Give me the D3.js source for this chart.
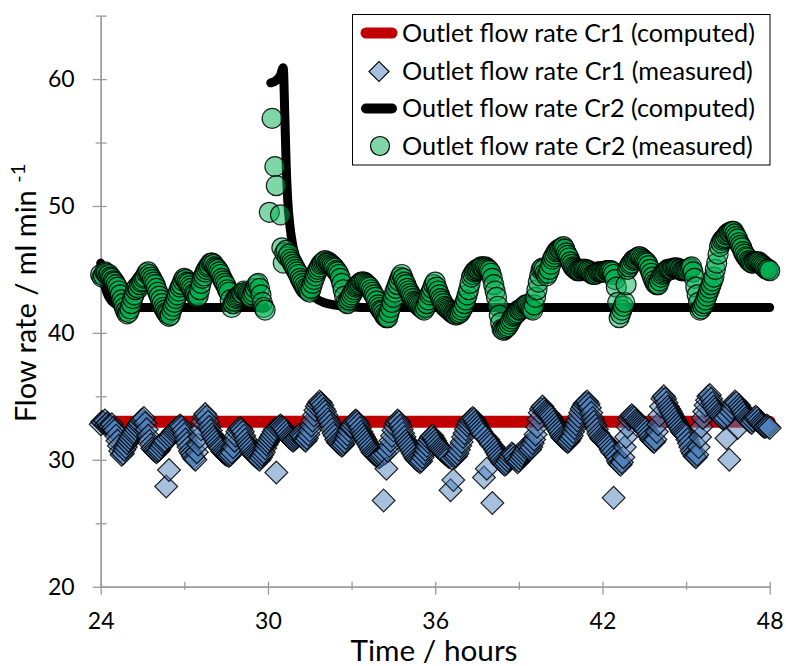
<!DOCTYPE html>
<html>
<head>
<meta charset="utf-8">
<script src="https://cdn.jsdelivr.net/npm/d3@7"></script>
<style>
  html, body { margin: 0; padding: 0; background: #fff; }
  svg { display: block; font-family: Lato, "Open Sans", sans-serif; }
</style>
</head>
<body>
<svg id="chart" width="786" height="666"></svg>
<script>
// Outlet flow rates of the two reactors, sampled every 0.05 h (3 min) from 24 h to 48 h
const sampleStart = 24.0;
const sampleStep = 0.05;

// Cr1 measured (ml/min), one row = 0.5 h
const cr1Measured = [
  32.8,33.0,32.9,33.1,32.8,32.9,32.7,32.6,32.8,32.5,
  32.3,31.9,31.5,31.1,30.7,30.4,30.5,30.8,31.0,31.3,
  31.5,31.7,31.9,32.1,32.2,32.4,32.6,32.8,32.9,33.1,
  33.2,33.3,32.9,32.4,31.9,31.5,31.2,30.9,30.8,30.7,
  30.6,30.7,30.8,31.0,31.2,31.4,31.5,27.9,31.7,29.2,
  31.8,32.0,32.2,32.3,32.4,32.5,32.6,32.7,32.6,32.3,
  32.0,31.6,31.3,31.0,30.7,30.5,30.3,30.1,30.0,30.6,
  31.2,31.8,32.4,33.0,33.4,33.6,33.4,33.0,32.6,32.3,
  32.0,31.8,31.6,31.4,31.2,31.0,30.9,30.7,30.6,30.5,
  30.4,30.4,30.3,30.4,30.6,31.0,31.5,31.9,32.2,32.4,
  32.5,32.4,32.2,31.9,31.6,31.3,31.1,30.9,30.7,30.5,
  30.4,30.3,30.2,30.1,30.0,30.2,30.4,30.6,30.9,31.2,
  31.4,31.6,31.8,32.0,32.2,32.4,29.0,32.5,32.6,32.7,
  32.6,32.5,32.4,32.2,32.0,31.8,31.7,31.6,31.5,31.6,
  31.7,31.8,31.9,32.0,31.9,31.8,31.6,31.5,31.7,32.0,
  32.3,32.7,33.1,33.5,33.9,34.2,34.4,34.6,34.5,34.3,
  34.0,33.8,33.5,33.2,33.0,32.7,32.4,32.1,31.9,31.6,
  31.4,31.3,31.2,31.1,31.2,31.4,31.7,32.0,32.3,32.6,
  32.6,32.8,33.0,33.1,33.0,32.8,32.5,32.2,32.0,31.8,
  31.6,31.4,31.2,31.0,30.8,30.6,30.5,30.4,30.3,30.2,
  30.2,30.3,30.4,26.8,30.5,29.3,30.7,31.1,31.5,31.9,
  32.3,32.6,32.9,33.1,33.0,32.7,32.4,32.1,31.8,31.5,
  31.3,31.1,30.9,30.7,30.5,30.3,30.1,30.0,29.9,29.8,
  29.9,30.2,30.5,30.8,31.1,31.4,31.6,31.8,31.9,31.7,
  31.5,31.3,31.1,30.9,30.8,30.7,30.6,30.5,30.4,30.3,
  30.2,27.6,30.1,28.4,30.2,30.3,30.5,30.8,31.1,31.4,
  31.8,32.1,32.4,32.7,32.9,33.1,33.2,33.3,33.2,33.0,
  32.8,32.6,32.4,32.2,32.0,28.6,31.8,29.3,31.6,31.4,
  31.2,26.6,31.0,30.8,30.6,30.4,30.2,30.0,29.8,29.7,
  29.6,29.7,29.9,30.1,30.3,30.5,30.4,30.2,30.0,29.8,
  29.9,30.1,30.3,30.5,30.7,30.9,31.1,31.0,30.8,31.0,
  31.3,31.6,32.0,32.6,33.2,33.7,34.0,34.2,34.0,33.8,
  33.7,33.6,33.5,33.4,33.2,33.0,32.8,32.6,32.4,32.2,
  32.0,31.8,31.7,31.6,31.5,31.4,31.5,31.7,31.9,32.2,
  32.5,32.8,33.1,33.4,33.7,34.0,34.2,34.4,34.5,34.6,
  34.4,34.1,33.7,33.3,33.0,32.7,32.4,32.1,31.9,31.7,
  31.6,31.5,31.4,31.3,31.2,31.0,30.8,30.6,27.0,30.4,
  30.2,29.9,29.7,29.6,29.8,30.2,31.0,31.8,32.6,33.2,
  33.4,33.5,33.4,33.3,33.1,33.0,32.9,32.8,32.7,32.6,
  32.5,32.4,32.2,32.0,31.8,31.6,31.5,31.4,31.6,32.2,
  32.8,33.5,34.2,34.8,35.0,34.8,34.5,34.2,34.0,33.8,
  33.6,33.4,33.2,33.0,32.8,32.6,32.4,32.2,32.1,32.0,
  31.9,31.6,31.3,31.0,30.7,30.5,30.3,30.2,30.4,31.0,
  31.8,32.6,33.3,33.8,34.3,34.7,35.0,35.1,34.8,34.5,
  34.2,34.0,33.8,33.6,33.5,33.4,33.3,33.2,33.3,31.7,
  33.5,30.0,33.8,34.1,34.4,34.6,34.5,32.5,34.3,34.1,
  33.9,33.7,33.5,33.3,33.2,33.1,33.0,32.9,33.1,33.3,
  33.4,33.3,33.1,32.9,32.8,32.7,32.6,32.6,32.7,32.6,
  32.5
];

// Cr2 measured (ml/min), one row = 0.5 h; null = no sample
const cr2Measured = [
  44.6,44.4,44.5,44.8,44.7,44.5,44.6,44.4,44.3,44.1,
  44.0,43.8,43.6,43.3,43.0,42.6,42.3,42.0,41.7,41.5,
  41.6,41.9,42.3,42.7,43.0,43.4,43.6,43.5,43.8,44.0,
  44.1,44.3,44.4,44.7,44.8,44.6,44.4,44.2,44.0,43.8,
  43.5,43.2,42.9,42.6,42.3,42.0,41.8,41.6,41.5,41.3,
  41.4,41.8,42.1,42.4,42.7,43.0,43.3,43.6,43.8,44.1,
  44.3,44.2,44.0,43.9,43.7,43.5,43.3,43.1,43.0,42.8,
  42.9,43.4,43.9,44.3,44.5,44.8,45.0,45.2,45.3,45.5,
  45.5,45.4,45.2,45.1,45.0,44.8,44.6,44.3,44.1,43.9,
  43.7,43.4,43.2,42.6,42.0,42.3,42.5,42.7,42.8,42.9,
  43.0,43.1,43.1,43.3,43.2,43.1,43.0,42.9,42.8,43.0,
  43.2,43.5,43.8,43.9,43.5,43.0,42.4,42.0,41.8,null,
  null,49.5,null,56.9,null,53.1,51.6,null,null,49.3,
  46.7,45.5,46.3,46.5,46.0,46.2,45.8,45.6,45.4,45.2,
  45.0,44.8,44.6,44.3,44.1,43.9,43.7,43.5,43.4,43.3,
  43.2,43.5,43.9,44.2,44.5,44.8,45.0,45.2,45.4,45.5,
  45.6,45.7,45.5,45.6,45.5,45.4,45.3,45.2,45.1,44.9,
  44.8,44.6,44.3,43.9,43.4,42.9,42.4,42.3,42.6,42.8,
  43.0,43.2,43.4,43.6,43.7,43.8,43.9,44.0,44.0,44.0,
  43.9,43.8,43.7,43.6,43.4,43.2,43.0,42.8,42.5,42.2,
  42.0,41.8,41.7,41.5,41.3,41.2,41.2,41.6,42.0,42.4,
  42.8,43.2,43.5,43.8,44.1,44.4,44.6,44.3,44.0,43.8,
  43.5,43.3,43.1,42.9,42.7,42.5,42.4,42.3,42.2,42.1,
  42.0,41.9,41.8,42.0,42.3,42.6,43.0,43.2,43.5,43.8,
  44.0,43.6,43.3,43.0,42.7,42.5,42.3,42.1,42.0,41.9,
  41.8,41.7,41.6,41.5,41.5,41.4,41.5,41.5,41.6,41.8,
  42.0,42.3,42.6,43.0,43.4,43.9,44.4,44.6,44.8,44.9,
  45.0,45.0,45.1,45.2,45.2,45.1,45.2,45.1,45.0,44.9,
  44.7,44.3,43.8,43.3,42.8,42.1,41.4,40.8,40.3,40.2,
  40.3,40.4,40.5,40.7,40.9,41.1,41.3,41.4,41.5,41.6,
  41.8,41.8,41.9,42.0,42.1,42.2,42.2,42.1,42.0,41.9,
  41.8,42.2,42.8,43.4,44.0,44.5,45.0,45.1,45.0,44.7,
  44.5,44.7,45.0,45.4,45.8,46.0,46.2,46.4,46.5,46.6,
  46.6,46.7,46.8,46.6,46.3,46.1,45.9,45.6,45.4,45.2,
  45.1,45.0,44.9,44.9,44.9,45.0,45.0,45.0,45.0,44.9,
  44.9,44.8,44.7,44.6,44.6,44.6,44.7,44.8,44.8,44.8,
  44.8,44.8,44.8,44.9,44.9,44.9,44.9,44.8,44.6,44.2,
  43.6,42.4,41.2,41.5,41.8,42.1,42.4,43.8,45.0,45.2,
  45.4,45.5,45.7,45.8,45.8,45.9,46.0,46.0,45.9,45.8,
  45.7,45.6,45.5,45.3,45.0,44.7,44.4,44.1,43.9,43.8,
  43.8,44.1,44.4,44.6,44.7,44.8,44.9,45.0,45.0,45.0,
  45.0,45.1,45.1,45.1,45.1,45.0,45.0,44.9,44.9,44.9,
  44.9,44.9,45.0,45.1,45.2,44.8,44.3,43.6,43.0,42.4,
  41.8,41.9,42.1,42.3,42.6,42.9,43.2,43.5,43.8,44.1,
  44.4,45.0,45.5,46.2,46.8,47.1,47.3,47.4,47.5,47.7,
  47.8,47.9,47.9,48.0,48.0,47.8,47.6,47.4,47.1,46.9,
  46.7,46.4,46.2,46.0,45.9,45.7,45.6,45.5,45.5,45.6,
  45.6,45.6,45.6,45.5,45.4,45.3,45.2,45.1,45.0,45.0,
  44.9
];

// Computed outlet flow rates (model output)
const cr1ComputedTime  = [24.0, 48.0];
const cr1ComputedValue = [33.0, 33.0];

const cr2ComputedTime  = [24.0, 24.1, 24.2, 24.3, 24.5, 24.8, 25.2, 29.9, 30.0,
                          30.1, 30.3, 30.45, 30.55, 30.6, 30.65, 30.7, 30.8, 30.9, 31.0,
                          31.2, 31.4, 31.6, 31.8, 32.0, 32.4, 32.8, 33.4, 48.0];
const cr2ComputedValue = [45.5, 44.2, 43.3, 42.8, 42.3, 42.1, 42.0, 42.0, null,
                          59.7, 59.9, 60.3, 60.9, 57.5, 53.5, 50.8, 48.2, 46.8, 45.8,
                          44.5, 43.6, 43.0, 42.6, 42.4, 42.2, 42.1, 42.0, 42.0];

// Axis ticks
const xMajorTicks = [24, 30, 36, 42, 48];
const xMinorTicks = [27, 33, 39, 45];
const yMajorTicks = [20, 30, 40, 50, 60];
const yMinorTicks = [25, 35, 45, 55, 65];

const legendLabels = [
  "Outlet flow rate Cr1 (computed)",
  "Outlet flow rate Cr1 (measured)",
  "Outlet flow rate Cr2 (computed)",
  "Outlet flow rate Cr2 (measured)"
];

const colors = {
  cr1Line: "#c00000",
  cr1Fill: "#4f81bd",
  cr2Line: "#000000",
  cr2Fill: "#00b050",
  axis: "#9a9a9a"
};

const svg = d3.select("#chart");
const x = d3.scaleLinear().domain([24, 48]).range([100.7, 769.7]);
const y = d3.scaleLinear().domain([20, 65]).range([586.7, 15.6]);

const timeAt = i => sampleStart + i * sampleStep;
const cr1Points = cr1Measured.map((v, i) => ({t: timeAt(i), v})).filter(d => d.v != null);
const cr2Points = cr2Measured.map((v, i) => ({t: timeAt(i), v})).filter(d => d.v != null);

// ---- axes ----
const axisG = svg.append("g");
function styleAxis(g) {
  g.select(".domain").attr("stroke", colors.axis).attr("stroke-width", 1.3);
  g.selectAll(".tick line").attr("stroke", colors.axis).attr("stroke-width", 1.3);
  g.selectAll(".tick text").attr("fill", "#000").attr("font-size", 23)
    .attr("font-family", "Lato, 'Open Sans', sans-serif");
}

const yAxisMajor = axisG.append("g").attr("transform", `translate(${x(24)},0)`)
  .call(d3.axisLeft(y).tickValues(yMajorTicks).tickSizeInner(8).tickSizeOuter(0).tickPadding(18));
yAxisMajor.selectAll(".tick line").attr("x1", 6);
styleAxis(yAxisMajor);

const yAxisMinor = axisG.append("g").attr("transform", `translate(${x(24)},0)`)
  .call(d3.axisLeft(y).tickValues(yMinorTicks).tickSizeInner(5).tickSizeOuter(0).tickFormat(""));
yAxisMinor.selectAll(".tick line").attr("x1", 6);
styleAxis(yAxisMinor);

const xAxisMajor = axisG.append("g").attr("transform", `translate(0,${y(20)})`)
  .call(d3.axisBottom(x).tickValues(xMajorTicks).tickSizeInner(8).tickSizeOuter(0).tickPadding(18));
xAxisMajor.selectAll(".tick line").attr("y1", -5);
styleAxis(xAxisMajor);

const xAxisMinor = axisG.append("g").attr("transform", `translate(0,${y(20)})`)
  .call(d3.axisBottom(x).tickValues(xMinorTicks).tickSizeInner(3).tickSizeOuter(0).tickFormat(""));
xAxisMinor.selectAll(".tick line").attr("y1", -5);
styleAxis(xAxisMinor);

// ---- series ----
const lineGen = d3.line()
  .defined(d => d.v != null)
  .x(d => x(d.t)).y(d => y(d.v))
  .curve(d3.curveMonotoneX);

const cr1Line = cr1ComputedTime.map((t, i) => ({t, v: cr1ComputedValue[i]}));
const cr2Line = cr2ComputedTime.map((t, i) => ({t, v: cr2ComputedValue[i]}));

const plot = svg.append("g");

plot.append("path").datum(cr1Line)
  .attr("d", lineGen).attr("fill", "none")
  .attr("stroke", colors.cr1Line).attr("stroke-width", 12)
  .attr("stroke-linecap", "round").attr("stroke-linejoin", "round");

const diamond = d3.symbol().type(d3.symbolSquare).size(260);
plot.append("g").selectAll("path").data(cr1Points).join("path")
  .attr("d", diamond)
  .attr("transform", d => `translate(${x(d.t)},${y(d.v)}) rotate(45)`)
  .attr("fill", colors.cr1Fill).attr("fill-opacity", 0.5)
  .attr("stroke", "#000").attr("stroke-opacity", 0.85).attr("stroke-width", 1.2);

plot.append("path").datum(cr2Line)
  .attr("d", lineGen).attr("fill", "none")
  .attr("stroke", colors.cr2Line).attr("stroke-width", 9)
  .attr("stroke-linecap", "round").attr("stroke-linejoin", "round");

plot.append("g").selectAll("circle").data(cr2Points).join("circle")
  .attr("cx", d => x(d.t)).attr("cy", d => y(d.v)).attr("r", 10)
  .attr("fill", colors.cr2Fill).attr("fill-opacity", 0.5)
  .attr("stroke", "#000").attr("stroke-opacity", 0.85).attr("stroke-width", 1.2);

// ---- legend ----
const legend = svg.append("g");
legend.append("rect")
  .attr("x", 352.5).attr("y", 14.5).attr("width", 417.5).attr("height", 150.5)
  .attr("fill", "#fff").attr("stroke", "#000").attr("stroke-width", 1);

const rowY = [33, 71.5, 108.5, 146];
const keyX = 379;
legendLabels.forEach((label, i) => {
  const cy = rowY[i];
  if (i === 0 || i === 2) {
    legend.append("line")
      .attr("x1", keyX - 13).attr("x2", keyX + 13).attr("y1", cy).attr("y2", cy)
      .attr("stroke", i === 0 ? colors.cr1Line : colors.cr2Line)
      .attr("stroke-width", i === 0 ? 11 : 10).attr("stroke-linecap", "round");
  } else if (i === 1) {
    legend.append("path").attr("d", d3.symbol().type(d3.symbolSquare).size(200)())
      .attr("transform", `translate(${keyX},${cy}) rotate(45)`)
      .attr("fill", colors.cr1Fill).attr("fill-opacity", 0.5)
      .attr("stroke", "#000").attr("stroke-width", 1.2);
  } else {
    legend.append("circle").attr("cx", keyX + 1).attr("cy", cy).attr("r", 9.5)
      .attr("fill", colors.cr2Fill).attr("fill-opacity", 0.5)
      .attr("stroke", "#000").attr("stroke-width", 1.2);
  }
  const txt = legend.append("text")
    .attr("x", 402).attr("y", cy).attr("dy", "0.35em")
    .attr("font-size", 23).attr("fill", "#000").text(label);
  // fit label width to the legend box
  const w = txt.node().getComputedTextLength();
  const target = i === 1 || i === 3 ? 351 : 353;
  txt.attr("font-size", 23 * target / w);
});

// ---- axis titles ----
const xTitle = svg.append("text")
  .attr("x", 434).attr("y", 661).attr("text-anchor", "middle")
  .attr("font-size", 29).attr("fill", "#000").text("Time / hours");
const xw = xTitle.node().getComputedTextLength();
xTitle.attr("font-size", 29 * 167 / xw);

const yTitle = svg.append("text")
  .attr("transform", "translate(36,293) rotate(-90)")
  .attr("text-anchor", "middle").attr("font-size", 29).attr("fill", "#000");
yTitle.append("tspan").text("Flow rate / ml min ");
yTitle.append("tspan").attr("font-size", 20).attr("dy", -11).text("-1");
</script>
</body>
</html>
